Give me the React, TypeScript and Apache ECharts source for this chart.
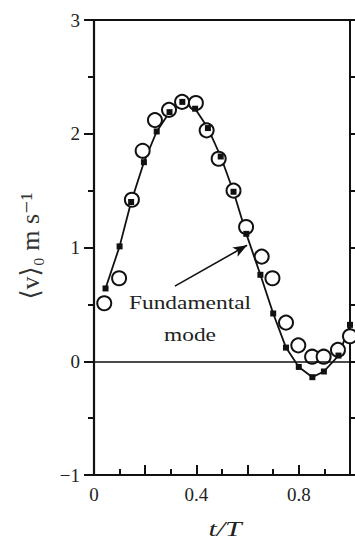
import React, { useEffect, useRef } from "react";
import * as echarts from "echarts";

// Phase-averaged velocity over one period
const tSquares = [0.045, 0.1, 0.145, 0.195, 0.245, 0.295, 0.345, 0.395, 0.445, 0.495, 0.545, 0.595, 0.65, 0.7, 0.75, 0.8, 0.853, 0.898, 0.955, 1.0];
const vSquares = [0.64, 1.01, 1.4, 1.75, 2.02, 2.19, 2.28, 2.22, 2.05, 1.8, 1.49, 1.12, 0.76, 0.42, 0.12, -0.05, -0.14, -0.09, 0.05, 0.32];

const tCircles = [0.04, 0.098, 0.148, 0.19, 0.238, 0.293, 0.344, 0.398, 0.44, 0.487, 0.545, 0.594, 0.655, 0.697, 0.75, 0.798, 0.852, 0.897, 0.953, 1.0];
const vCircles = [0.51, 0.73, 1.42, 1.85, 2.12, 2.21, 2.28, 2.27, 2.03, 1.78, 1.5, 1.18, 0.92, 0.73, 0.34, 0.14, 0.04, 0.04, 0.1, 0.22];

const xLabelValues = [0, 0.4, 0.8];
const xTickLabels = ["0", "0.4", "0.8"];
const yTickLabels = ["−1", "0", "1", "2", "3"];

// Arrow pointing at the fundamental-mode curve
const arrowTail = [0.316, 0.66];
const arrowHead = [0.598, 1.02];

const SERIF = "'Liberation Serif', 'Times New Roman', 'DejaVu Serif', serif";
const INK = "#111";

export default function App() {
  const ref = useRef<HTMLDivElement>(null);

  useEffect(() => {
    document.body.style.margin = "0";
    const chart = echarts.init(ref.current!, null, { renderer: "svg" });
    const squares = tSquares.map((t, i) => [t, vSquares[i]]);
    const circles = tCircles.map((t, i) => [t, vCircles[i]]);

    const xLabel = (v: number) => {
      const i = xLabelValues.findIndex((x) => Math.abs(x - v) < 1e-6);
      return i >= 0 ? xTickLabels[i] : String(v);
    };
    const yLabel = (v: number) => {
      const i = Math.round(v) + 1;
      return yTickLabels[i] !== undefined ? yTickLabels[i] : String(v);
    };

    chart.setOption({
      animation: false,
      backgroundColor: "#fff",
      grid: { left: 94, top: 20, right: 5, bottom: 67 },
      xAxis: [
        {
          type: "value",
          min: 0,
          max: 1,
          interval: 0.2,
          axisLine: { show: true, onZero: false, lineStyle: { color: INK, width: 2 } },
          axisTick: { show: true, inside: true, length: 10, lineStyle: { color: INK, width: 2 } },
          minorTick: { show: true, splitNumber: 2, length: 6, lineStyle: { color: INK, width: 2 } },
          splitLine: { show: false },
          axisLabel: {
            margin: 10,
            color: "#222",
            fontFamily: SERIF,
            fontSize: 19,
            customValues: xLabelValues,
            formatter: xLabel,
          },
        },
        {
          type: "value",
          position: "top",
          min: 0,
          max: 1,
          axisLine: { show: true, onZero: false, lineStyle: { color: INK, width: 2 } },
          axisTick: { show: false },
          axisLabel: { show: false },
          splitLine: { show: false },
        },
      ],
      yAxis: [
        {
          type: "value",
          min: -1,
          max: 3,
          interval: 1,
          axisLine: { show: true, onZero: false, lineStyle: { color: INK, width: 2.2 } },
          axisTick: { show: true, inside: false, length: 10, lineStyle: { color: INK, width: 2 } },
          minorTick: { show: true, splitNumber: 2, length: 6, lineStyle: { color: INK, width: 2 } },
          splitLine: { show: false },
          axisLabel: {
            margin: 14,
            color: "#222",
            fontFamily: SERIF,
            fontSize: 19,
            formatter: yLabel,
          },
        },
        {
          type: "value",
          position: "right",
          min: -1,
          max: 3,
          interval: 1,
          axisLine: { show: true, onZero: false, lineStyle: { color: INK, width: 2 } },
          axisTick: { show: true, inside: false, length: 7, lineStyle: { color: INK, width: 2 } },
          minorTick: { show: true, splitNumber: 2, length: 7, lineStyle: { color: INK, width: 2 } },
          axisLabel: { show: false },
          splitLine: { show: false },
        },
      ],
      series: [
        {
          type: "line",
          data: squares,
          showSymbol: false,
          symbol: "none",
          lineStyle: { color: INK, width: 1.8 },
          z: 2,
          markLine: {
            silent: true,
            symbol: "none",
            label: { show: false },
            lineStyle: { color: INK, width: 1.6, type: "solid" },
            data: [
              { yAxis: 0 },
              [{ coord: arrowTail }, { coord: arrowHead, symbol: "arrow", symbolSize: [8, 14] }],
            ],
          },
        },
        {
          type: "scatter",
          data: circles,
          symbol: "circle",
          symbolSize: 14,
          itemStyle: { color: "#fff", borderColor: INK, borderWidth: 2, opacity: 1 },
          z: 3,
        },
        {
          type: "scatter",
          data: squares,
          symbol: "rect",
          symbolSize: 6,
          itemStyle: { color: INK, opacity: 1 },
          z: 4,
        },
      ],
      graphic: [
        {
          type: "text",
          x: 190,
          y: 303,
          scaleX: 1.3,
          style: { text: "Fundamental", fontFamily: SERIF, fontSize: 18, fill: "#222", align: "center", verticalAlign: "middle" },
        },
        {
          type: "text",
          x: 190,
          y: 335,
          scaleX: 1.3,
          style: { text: "mode", fontFamily: SERIF, fontSize: 18, fill: "#222", align: "center", verticalAlign: "middle" },
        },
        {
          type: "text",
          x: 30,
          y: 246,
          rotation: Math.PI / 2,
          style: {
            text: "⟨v⟩₀ m s⁻¹",
            fontFamily: SERIF,
            fontSize: 26,
            fill: "#333",
            align: "center",
            verticalAlign: "middle",
          },
        },
        {
          type: "text",
          x: 225,
          y: 529,
          scaleX: 1.35,
          style: { text: "t/T", fontFamily: SERIF, fontSize: 22, fontStyle: "italic", fill: "#222", align: "center", verticalAlign: "middle" },
        },
      ],
    });

    return () => chart.dispose();
  }, []);

  return <div ref={ref} style={{ width: 355, height: 542 }} />;
}
